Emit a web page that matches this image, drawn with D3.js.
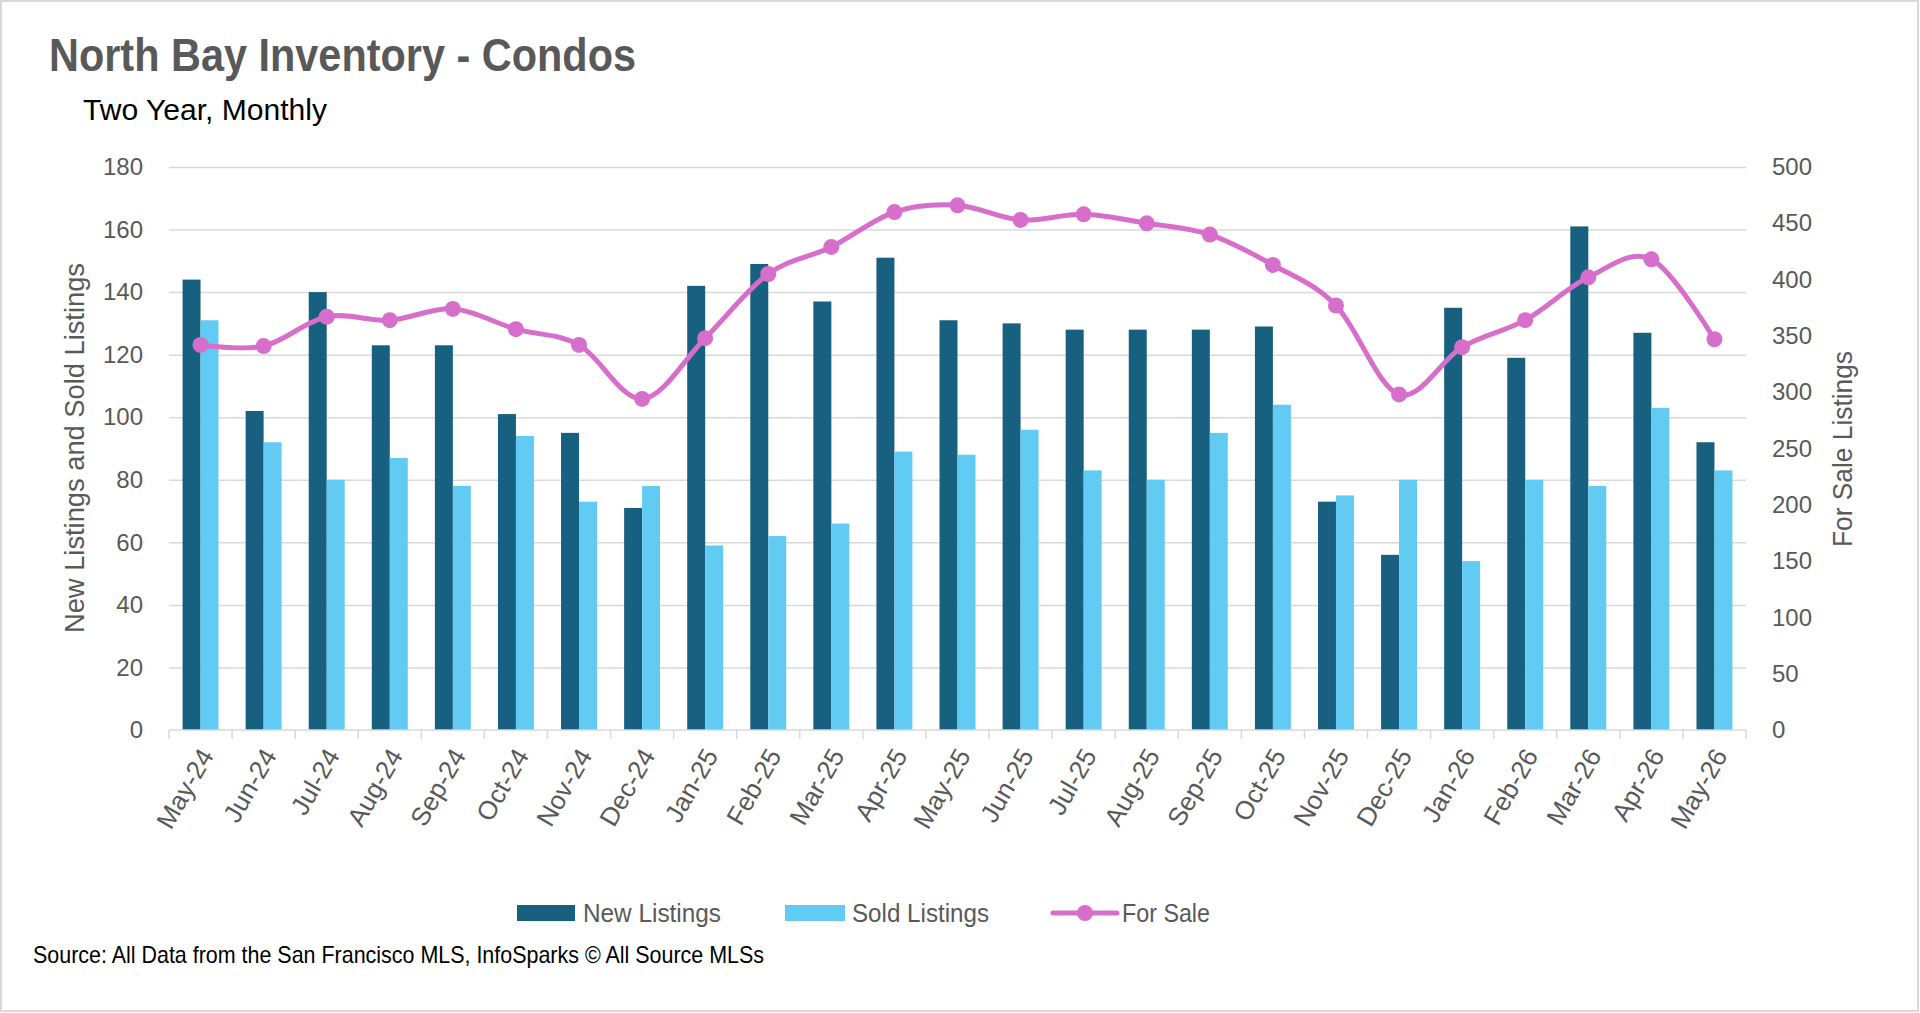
<!DOCTYPE html>
<html>
<head>
<meta charset="utf-8">
<script src="https://cdn.jsdelivr.net/npm/d3@7"></script>
<style>
  body { margin: 0; background: #fff; }
  svg { display: block; }
  .narrow { font-family: "Liberation Sans Narrow", "Liberation Sans", Arial, sans-serif; }
  .tick text { font-family: "Liberation Sans", Arial, sans-serif; }
</style>
</head>
<body>
<div id="chart"></div>
<script>
// chart values
var months = ["May-24", "Jun-24", "Jul-24", "Aug-24", "Sep-24", "Oct-24", "Nov-24", "Dec-24",
  "Jan-25", "Feb-25", "Mar-25", "Apr-25", "May-25", "Jun-25", "Jul-25", "Aug-25", "Sep-25",
  "Oct-25", "Nov-25", "Dec-25", "Jan-26", "Feb-26", "Mar-26", "Apr-26", "May-26"];
var newListings = [144, 102, 140, 123, 123, 101, 95, 71, 142, 149, 137, 151, 131, 130, 128, 128, 128,
  129, 73, 56, 135, 119, 161, 127, 92];
var soldListings = [131, 92, 80, 87, 78, 94, 73, 78, 59, 62, 66, 89, 88, 96, 83, 80, 95,
  104, 75, 80, 54, 80, 78, 103, 83];
var forSale = [342, 341, 367, 364, 374, 356, 342, 294, 348, 405, 429, 460, 466, 453, 458, 450, 440,
  413, 377, 298, 340, 364, 402, 418, 347];
var leftTicks = [0, 20, 40, 60, 80, 100, 120, 140, 160, 180];
var rightTicks = [0, 50, 100, 150, 200, 250, 300, 350, 400, 450, 500];
var seriesNames = ["New Listings", "Sold Listings", "For Sale"];

var svgWidth = 1920;
var svgHeight = 1013;

var margin = {
  top: 167,
  right: 174,
  bottom: 283,
  left: 169
};

var width = svgWidth - margin.left - margin.right;
var height = svgHeight - margin.top - margin.bottom;

var darkBlue = "#17607f";
var lightBlue = "#61cbf3";
var pink = "#d86ecc";
var grey = "#595959";
var gridGrey = "#d9d9d9";

var svg = d3.select("#chart")
  .append("svg")
  .attr("width", svgWidth)
  .attr("height", svgHeight);

// outer frame
svg.append("rect")
  .attr("x", 1)
  .attr("y", 1)
  .attr("width", svgWidth - 3)
  .attr("height", svgHeight - 3)
  .attr("fill", "#fff")
  .attr("stroke", gridGrey)
  .attr("stroke-width", 2);

// titles
svg.append("text")
  .attr("class", "narrow")
  .attr("x", 49)
  .attr("y", 71)
  .attr("textLength", 587)
  .attr("lengthAdjust", "spacingAndGlyphs")
  .style("font-size", "46px")
  .style("font-weight", "bold")
  .attr("fill", grey)
  .text("North Bay Inventory - Condos");

svg.append("text")
  .attr("class", "narrow")
  .attr("x", 83)
  .attr("y", 120)
  .attr("textLength", 244)
  .attr("lengthAdjust", "spacingAndGlyphs")
  .style("font-size", "30px")
  .attr("fill", "#000")
  .text("Two Year, Monthly");

var chartGroup = svg.append("g")
  .attr("transform", `translate(${margin.left}, ${margin.top})`);

// scales
var xScale = d3.scaleBand()
  .domain(months)
  .range([0, width])
  .paddingInner(0.43)
  .paddingOuter(0.215);

var xSub = d3.scaleBand()
  .domain(["new", "sold"])
  .range([0, xScale.bandwidth()]);

var yLeft = d3.scaleLinear()
  .domain([0, 180])
  .range([height, 0]);

var yRight = d3.scaleLinear()
  .domain([0, 500])
  .range([height, 0]);

// gridlines
chartGroup.append("g")
  .attr("class", "grid")
  .call(d3.axisLeft(yLeft).tickValues(leftTicks.slice(1)).tickSize(-width).tickFormat(""))
  .call(g => g.select(".domain").remove())
  .call(g => g.selectAll("line").attr("stroke", gridGrey).attr("stroke-width", 1.5));

// left axis labels
chartGroup.append("g")
  .call(d3.axisLeft(yLeft).tickValues(leftTicks).tickSize(0).tickPadding(26))
  .call(g => g.select(".domain").remove())
  .call(g => g.selectAll("text").attr("fill", grey).style("font-size", "24px"));

// right axis labels
chartGroup.append("g")
  .attr("transform", `translate(${width}, 0)`)
  .call(d3.axisRight(yRight).tickValues(rightTicks).tickSize(0).tickPadding(26))
  .call(g => g.select(".domain").remove())
  .call(g => g.selectAll("text").attr("fill", grey).style("font-size", "24px"));

// bars
var groups = chartGroup.selectAll(".month")
  .data(months)
  .enter()
  .append("g")
  .attr("class", "month")
  .attr("transform", d => `translate(${xScale(d)}, 0)`);

groups.append("rect")
  .attr("x", xSub("new"))
  .attr("width", xSub.bandwidth())
  .attr("y", (d, i) => yLeft(newListings[i]))
  .attr("height", (d, i) => height - yLeft(newListings[i]))
  .attr("fill", darkBlue);

groups.append("rect")
  .attr("x", xSub("sold"))
  .attr("width", xSub.bandwidth())
  .attr("y", (d, i) => yLeft(soldListings[i]))
  .attr("height", (d, i) => height - yLeft(soldListings[i]))
  .attr("fill", lightBlue);

// x axis with ticks between categories
var step = xScale.step();
var bottom = chartGroup.append("g")
  .attr("transform", `translate(0, ${height})`);

bottom.append("line")
  .attr("x1", 0)
  .attr("x2", width)
  .attr("stroke", gridGrey)
  .attr("stroke-width", 1.5);

bottom.selectAll(".sep")
  .data(d3.range(months.length + 1))
  .enter()
  .append("line")
  .attr("x1", d => d * step)
  .attr("x2", d => d * step)
  .attr("y1", 0)
  .attr("y2", 9)
  .attr("stroke", gridGrey)
  .attr("stroke-width", 1.5);

bottom.selectAll(".xlabel")
  .data(months)
  .enter()
  .append("text")
  .attr("class", "xlabel")
  .attr("transform", d => `translate(${xScale(d) + xScale.bandwidth() / 2 + 6}, 21) rotate(-60)`)
  .attr("text-anchor", "end")
  .attr("dy", "0.35em")
  .style("font-family", "'Liberation Sans', Arial, sans-serif")
  .style("font-size", "26px")
  .attr("fill", grey)
  .text(d => d);

// for sale line
var line = d3.line()
  .x((d, i) => xScale(months[i]) + xScale.bandwidth() / 2)
  .y(d => yRight(d))
  .curve(d3.curveCatmullRom.alpha(0));

chartGroup.append("path")
  .datum(forSale)
  .attr("d", line)
  .attr("fill", "none")
  .attr("stroke", pink)
  .attr("stroke-width", 5)
  .attr("stroke-linecap", "round");

chartGroup.selectAll(".dot")
  .data(forSale)
  .enter()
  .append("circle")
  .attr("class", "dot")
  .attr("cx", (d, i) => xScale(months[i]) + xScale.bandwidth() / 2)
  .attr("cy", d => yRight(d))
  .attr("r", 8)
  .attr("fill", pink);

// axis titles
svg.append("text")
  .attr("class", "narrow")
  .attr("transform", "translate(84, 448) rotate(-90)")
  .attr("text-anchor", "middle")
  .attr("textLength", 370)
  .attr("lengthAdjust", "spacingAndGlyphs")
  .style("font-size", "27px")
  .attr("fill", grey)
  .text("New Listings and Sold Listings");

svg.append("text")
  .attr("class", "narrow")
  .attr("transform", "translate(1852, 449) rotate(-90)")
  .attr("text-anchor", "middle")
  .attr("textLength", 196)
  .attr("lengthAdjust", "spacingAndGlyphs")
  .style("font-size", "27px")
  .attr("fill", grey)
  .text("For Sale Listings");

// legend
var legendY = 913;
var legend = svg.append("g");
var legendItems = [
  { name: seriesNames[0], x: 517, tx: 583, tl: 138 },
  { name: seriesNames[1], x: 785, tx: 852, tl: 137 },
  { name: seriesNames[2], x: 1053, tx: 1122, tl: 88 }
];

legend.append("rect")
  .attr("x", legendItems[0].x)
  .attr("y", legendY - 8)
  .attr("width", 58)
  .attr("height", 16)
  .attr("fill", darkBlue);

legend.append("rect")
  .attr("x", legendItems[1].x)
  .attr("y", legendY - 8)
  .attr("width", 60)
  .attr("height", 16)
  .attr("fill", lightBlue);

legend.append("line")
  .attr("x1", legendItems[2].x)
  .attr("x2", legendItems[2].x + 64)
  .attr("y1", legendY)
  .attr("y2", legendY)
  .attr("stroke", pink)
  .attr("stroke-width", 5)
  .attr("stroke-linecap", "round");

legend.append("circle")
  .attr("cx", legendItems[2].x + 32)
  .attr("cy", legendY)
  .attr("r", 8)
  .attr("fill", pink);

legend.selectAll(".ltext")
  .data(legendItems)
  .enter()
  .append("text")
  .attr("class", "narrow")
  .attr("x", d => d.tx)
  .attr("y", legendY + 9)
  .attr("textLength", d => d.tl)
  .attr("lengthAdjust", "spacingAndGlyphs")
  .style("font-size", "26px")
  .attr("fill", grey)
  .text(d => d.name);

// source note
svg.append("text")
  .attr("class", "narrow")
  .attr("x", 33)
  .attr("y", 963)
  .attr("textLength", 731)
  .attr("lengthAdjust", "spacingAndGlyphs")
  .style("font-size", "24px")
  .attr("fill", "#000")
  .text("Source: All Data from the San Francisco MLS, InfoSparks © All Source MLSs");
</script>
</body>
</html>
